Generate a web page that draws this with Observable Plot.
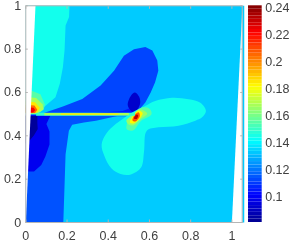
<!DOCTYPE html>
<html><head><meta charset="utf-8">
<script src="https://cdn.jsdelivr.net/npm/d3@7"></script>
<script src="https://cdn.jsdelivr.net/npm/@observablehq/plot@0.6"></script>
<style>
html,body{margin:0;padding:0;background:#fff;width:291px;height:242px;overflow:hidden}
#w{position:relative;width:291px;height:242px}
#w svg{position:absolute;left:0;top:0;background:transparent;overflow:visible;filter:blur(0.35px)}
</style></head><body><div id="w"></div>
<script>
const tickVals = [0,0.2,0.4,0.6,0.8,1];
const barTicks = [0.1,0.12,0.14,0.16,0.18,0.2,0.22,0.24];
const jetDomain = [0.0811,0.1011,0.1412,0.1812,0.2213,0.2413];
const jetRange = ["#00008f","#0000ff","#00ffff","#ffff00","#ff0000","#800000"];
const barRange = [0.0811,0.2413];

const domainQuad = [[0,0],[1.06,0],[1.06,1],[0,1]];
const topLeftLobe = [[0,1],[0.212,1],[0.21,0.948],[0.193,0.909],[0.188,0.794],[0.18,0.717],[0.165,0.64],[0.144,0.578],[0.0875,0.532],[0.07,0.51],[0,0.505]];
const bigLobeTop = [[0.0875,0.505],[0.18,0.535],[0.274,0.57],[0.363,0.632],[0.428,0.70],[0.476,0.77],[0.525,0.80],[0.58,0.81],[0.614,0.794],[0.638,0.748],[0.643,0.70],[0.627,0.646],[0.606,0.6],[0.58,0.554],[0.54,0.51],[0.5,0.49],[0.3,0.49],[0.0875,0.49]];
const lowerLeftBlue = [[0,0],[0.182,0],[0.193,0.315],[0.209,0.423],[0.225,0.451],[0.282,0.462],[0.34,0.47],[0.46,0.495],[0,0.5]];
const lowerLeftDark = [[0,0.235],[0.04,0.235],[0.075,0.265],[0.095,0.305],[0.115,0.36],[0.115,0.42],[0.1,0.454],[0.12,0.495],[0,0.495]];
const lowerLeftNavy = [[0,0.365],[0.0146,0.374],[0.039,0.401],[0.058,0.432],[0.056,0.46],[0.056,0.492],[0,0.492]];
const aboveDark = [[0.33,0.505],[0.47,0.515],[0.51,0.53],[0.535,0.505],[0.52,0.497],[0.33,0.497]];
const junctionDark = [[0.495,0.54],[0.51,0.585],[0.53,0.6],[0.55,0.58],[0.555,0.55],[0.54,0.52],[0.52,0.51]];
const rightLobe = [[0.368,0.36],[0.38,0.31],[0.415,0.25],[0.46,0.224],[0.51,0.222],[0.56,0.255],[0.574,0.33],[0.587,0.4235],[0.644,0.439],[0.741,0.447],[0.823,0.47],[0.854,0.484],[0.874,0.515],[0.847,0.553],[0.79,0.569],[0.709,0.576],[0.628,0.561],[0.579,0.538],[0.52,0.51],[0.48,0.485],[0.436,0.454],[0.39,0.41]];
const rightOuter = [[0.49,0.43],[0.52,0.425],[0.56,0.47],[0.61,0.5],[0.6,0.525],[0.56,0.53],[0.53,0.51],[0.5,0.48]];
const rightGreen = [[0.488,0.471],[0.4995,0.452],[0.524,0.449],[0.555,0.475],[0.589,0.502],[0.573,0.517],[0.548,0.521],[0.524,0.5]];
const rightYellow = [[0.505,0.462],[0.524,0.457],[0.561,0.49],[0.567,0.505],[0.548,0.517],[0.524,0.497]];
const rightRed = [[0.518,0.471],[0.532,0.466],[0.553,0.49],[0.548,0.508],[0.53,0.498]];
const rightCore = [[0.525,0.48],[0.538,0.478],[0.545,0.494],[0.537,0.498]];
const leftCyan = [[0,0.607],[0.031,0.607],[0.071,0.592],[0.092,0.546],[0.0875,0.523],[0.055,0.5],[0,0.5]];
const leftGreen = [[0,0.58],[0.05,0.575],[0.082,0.545],[0.085,0.52],[0.055,0.503],[0,0.503]];
const leftYellow = [[0,0.56],[0.045,0.555],[0.068,0.53],[0.055,0.505],[0,0.505]];
const leftRed = [[0,0.543],[0.042,0.54],[0.056,0.52],[0.045,0.505],[0,0.505]];
const leftCore = [[0,0.532],[0.038,0.53],[0.046,0.518],[0.036,0.508],[0,0.508]];
const slitCyan = [[0.05,0.493],[0.53,0.493],[0.53,0.506],[0.05,0.506]];
const slitGreen = [[0.09,0.495],[0.5,0.495],[0.5,0.505],[0.09,0.505]];
const slitYellow = [[0.17,0.497],[0.45,0.497],[0.45,0.503],[0.17,0.503]];
const leftWedge = [[-0.001,0],[-0.001,1],[0.047,1],[0,0]];
const rightWedge = [[1,0],[1.051,1],[1.051,0]];
const frame = [[0,0],[1.05,0],[1.05,1],[0,1],[0,0]];

const colorOpt = {type:"linear",domain:jetDomain,range:jetRange,interpolate:"rgb",clamp:true};
const poly = (p,v,curve="linear-closed") => Plot.line(p,{x:d=>d[0],y:d=>d[1],fill:()=>v,stroke:"none",curve});
const smooth = "catmull-rom-closed";
const axisColor = "#b5b5b5", textColor = "#404040";
const font = "Liberation Sans, Arial, sans-serif";

const main = Plot.plot({
  width:291,height:242,marginLeft:25.3,marginRight:49.3,marginTop:5.3,marginBottom:20,
  style:{fontFamily:font,fontSize:"12.5px",background:"transparent",color:textColor},
  x:{domain:[0,1.05]},y:{domain:[0,1]},color:colorOpt,
  marks:[
    poly(domainQuad,0.133),
    poly(topLeftLobe,0.144),
    poly(bigLobeTop,0.112),
    poly(lowerLeftBlue,0.114),
    poly(lowerLeftDark,0.0985),
    poly(lowerLeftNavy,0.083),
    poly(aboveDark,0.1045),
    poly(junctionDark,0.092,smooth),
    poly(rightLobe,0.144,smooth),
    poly(rightOuter,0.155,smooth),
    poly(rightGreen,0.165,smooth),
    poly(rightYellow,0.182,smooth),
    poly(rightRed,0.208,smooth),
    poly(rightCore,0.232,smooth),
    poly(leftCyan,0.155),
    poly(leftGreen,0.168),
    poly(leftYellow,0.185),
    poly(leftRed,0.205),
    poly(leftCore,0.222),
    poly(slitCyan,0.15),
    poly(slitGreen,0.168),
    poly(slitYellow,0.185),
    Plot.line(leftWedge,{x:d=>d[0],y:d=>d[1],fill:"white",stroke:"none",curve:"linear-closed"}),
    Plot.line(rightWedge,{x:d=>d[0],y:d=>d[1],fill:"white",stroke:"none",curve:"linear-closed"}),
    Plot.line(frame,{x:d=>d[0],y:d=>d[1],stroke:axisColor,strokeWidth:1}),
    Plot.axisX({ticks:tickVals,tickSize:-2.5,tickPadding:11,stroke:axisColor,fill:textColor,label:null,tickFormat:d=>String(d)}),
    Plot.axisX({anchor:"top",ticks:tickVals,tickSize:-2.5,stroke:axisColor,label:null,tickFormat:()=>""}),
    Plot.axisY({ticks:tickVals,tickSize:-2.5,tickPadding:7,stroke:axisColor,fill:textColor,label:null,tickFormat:d=>String(d)}),
    Plot.axisY({anchor:"right",ticks:tickVals,tickSize:-2.5,stroke:axisColor,label:null,tickFormat:()=>""})
  ]
});

const barLevels = d3.range(64).map(i => barRange[0] + (barRange[1]-barRange[0])*i/64);
const barStep = (barRange[1]-barRange[0])/64;
const bar = Plot.plot({
  width:291,height:242,marginLeft:248,marginRight:29.3,marginTop:5.3,marginBottom:20,
  style:{fontFamily:font,fontSize:"12.5px",background:"transparent",color:textColor},
  x:{domain:[0,1],axis:null},y:{domain:barRange},color:colorOpt,
  marks:[
    Plot.rect(barLevels,{x1:0,x2:1,y1:d=>d,y2:d=>d+barStep,fill:d=>d+barStep/2,inset:0}),
    Plot.axisY({anchor:"right",ticks:barTicks,tickSize:0,tickPadding:3,fill:textColor,label:null,tickFormat:d=>String(d)})
  ]
});
document.getElementById("w").append(main,bar);
</script></body></html>
